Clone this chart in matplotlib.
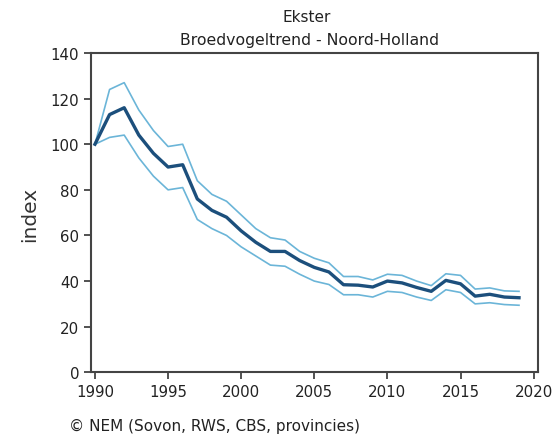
import matplotlib
matplotlib.use("Agg")
import matplotlib.pyplot as plt

years = list(range(1990, 2020))
index = [100, 113, 116, 104, 96, 90, 91, 76, 71, 68, 62, 57, 53, 53, 49, 46, 44,
         38.4, 38.2, 37.4, 40.0, 39.2, 37.2, 35.5, 40.3, 38.8, 33.4, 34.2, 33.0, 32.7]
upper = [100, 124, 127, 115, 106, 99, 100, 84, 78, 75, 69, 63, 59, 58, 53, 50, 48,
         42, 42, 40.5, 43, 42.5, 40, 38, 43.2, 42.5, 36.5, 37, 35.7, 35.5]
lower = [100, 103, 104, 94, 86, 80, 81, 67, 63, 60, 55, 51, 47, 46.5, 43, 40, 38.5,
         34, 34, 33, 35.5, 35, 33, 31.5, 36.2, 35, 30, 30.5, 29.7, 29.4]
xticks = [1990, 1995, 2000, 2005, 2010, 2015, 2020]
yticks = [0, 20, 40, 60, 80, 100, 120, 140]

fig = plt.figure(figsize=(5.53, 4.35), dpi=100)
ax = fig.add_axes([91/553, 1-373.3/435, (538-91)/553, (373.3-54)/435])

band_col = "#6bb5d8"
main_col = "#1c4f7c"
ax.plot(years, upper, color=band_col, lw=1.2)
ax.plot(years, lower, color=band_col, lw=1.2)
ax.plot(years, index, color=main_col, lw=2.4)

ax.set_xlim(1989.73, 2020.3)
ax.set_ylim(0, 140)
ax.set_xticks(xticks)
ax.set_yticks(yticks)
ax.tick_params(direction="out", length=5, width=1.2, labelsize=10.8, colors="#333333",
               labelcolor="#222222")
for s in ax.spines.values():
    s.set_color("#444444")
    s.set_linewidth(1.5)

fig.text(29.5/553, 1-214/435, "index", rotation=90, fontsize=14.5,
         va="center", ha="center", color="#333333")
fig.text(307/553, 1-18/435, "Ekster", fontsize=11, ha="center", va="center", color="#222222")
fig.text(309.5/553, 1-40/435, "Broedvogeltrend - Noord-Holland", fontsize=11.3,
         ha="center", va="center", color="#222222")
fig.text(69/553, 1-426/435, "\u00a9 NEM (Sovon, RWS, CBS, provincies)", fontsize=11,
         ha="left", va="center", color="#222222")

fig.savefig("out.png", dpi=100)
